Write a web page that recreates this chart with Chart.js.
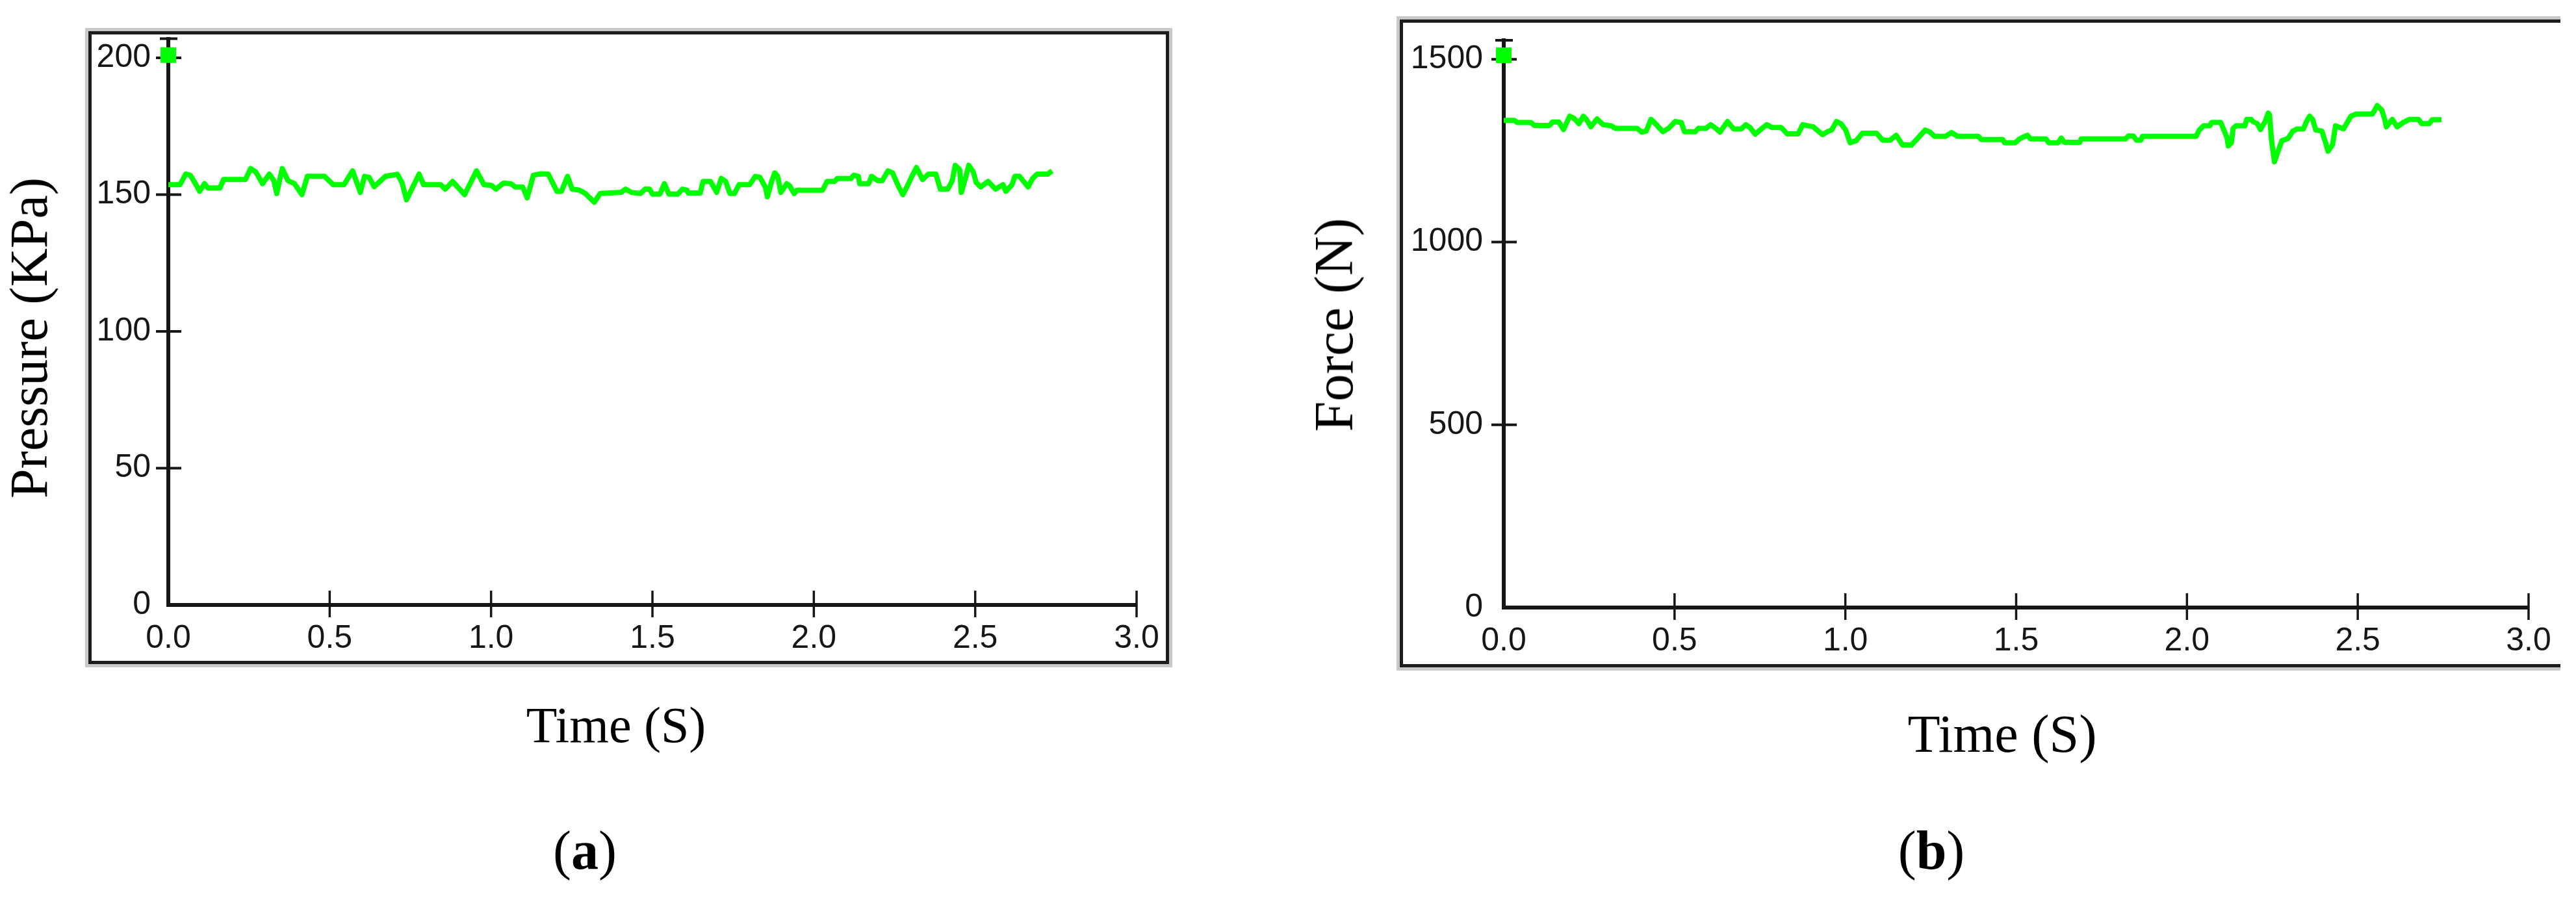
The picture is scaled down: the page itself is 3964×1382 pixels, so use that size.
<!DOCTYPE html>
<html>
<head>
<meta charset="utf-8">
<script src="https://cdn.jsdelivr.net/npm/chart.js@4.4.0/dist/chart.umd.min.js"></script>
<style>
  html, body { margin: 0; padding: 0; background: #fff; }
  body { position: relative; width: 3964px; height: 1382px; overflow: hidden; }
  canvas { position: absolute; top: 0; z-index: 2; }
  .frame { position: absolute; box-sizing: border-box; border: 5px solid #1c1c1c; box-shadow: 0 0 0 5px #c8c8c8; z-index: 1; }
  .txt { position: absolute; font-family: "Liberation Serif", "Times New Roman", serif; color: #000; line-height: 1; white-space: nowrap; z-index: 3; }
  .ytitle { transform: translate(-50%, -50%) rotate(-90deg); }
  .xtitle { transform: translateX(-50%); }
</style>
</head>
<body>
<div class="frame" style="left:136px; top:48px; width:1663px; height:974px;"></div>
<div class="frame" style="left:2154px; top:30px; width:1786px; height:997px; border-right:none; clip-path: inset(-6px 0 -6px -6px);"></div>

<canvas id="chartA" width="1980" height="1382" style="left:0;"></canvas>
<canvas id="chartB" width="1984" height="1382" style="left:1980px;"></canvas>

<div class="txt ytitle" style="left:45px; top:520px; font-size:82px;">Pressure (KPa)</div>
<div class="txt ytitle" style="left:2053px; top:500px; font-size:84px;">Force (N)</div>
<div class="txt xtitle" style="left:948px; top:1077px; font-size:78px;">Time (S)</div>
<div class="txt xtitle" style="left:3081px; top:1089px; font-size:82px;">Time (S)</div>
<div class="txt xtitle" style="left:900px; top:1267px; font-size:84px;">(<b>a</b>)</div>
<div class="txt xtitle" style="left:2972px; top:1267px; font-size:84px;">(<b>b</b>)</div>

<script>
// axis ticks
const xTicks = [0, 0.5, 1, 1.5, 2, 2.5, 3];
const xTickLabels = ['0.0', '0.5', '1.0', '1.5', '2.0', '2.5', '3.0'];
const pressureTicks = [0, 50, 100, 150, 200];
const forceTicks = [0, 500, 1000, 1500];

// first sample (shown as a square marker)
const pressureStart = [0, 201];
const forceStart = [0, 1511];

// (a) pressure trace, KPa
const pressureTime = [0, 0.036, 0.054, 0.068, 0.082, 0.097, 0.112, 0.123, 0.160, 0.171,
  0.239, 0.255, 0.271, 0.292, 0.313, 0.327, 0.336, 0.353, 0.371, 0.391,
  0.414, 0.431, 0.484, 0.511, 0.544, 0.571, 0.595, 0.608, 0.622, 0.638,
  0.673, 0.710, 0.724, 0.738, 0.761, 0.777, 0.791, 0.844, 0.858, 0.881,
  0.918, 0.955, 0.978, 1.001, 1.015, 1.038, 1.061, 1.075, 1.098, 1.112,
  1.131, 1.154, 1.177, 1.204, 1.218, 1.237, 1.251, 1.274, 1.292, 1.320,
  1.338, 1.403, 1.417, 1.435, 1.463, 1.477, 1.491, 1.500, 1.523, 1.537,
  1.551, 1.579, 1.593, 1.607, 1.611, 1.648, 1.657, 1.680, 1.699, 1.713,
  1.727, 1.740, 1.754, 1.768, 1.801, 1.819, 1.833, 1.851, 1.856, 1.870,
  1.879, 1.888, 1.898, 1.916, 1.925, 1.939, 1.948, 2.027, 2.041, 2.064,
  2.073, 2.115, 2.124, 2.138, 2.142, 2.170, 2.179, 2.198, 2.212, 2.230,
  2.244, 2.263, 2.276, 2.290, 2.304, 2.318, 2.337, 2.355, 2.378, 2.392,
  2.415, 2.429, 2.438, 2.452, 2.457, 2.466, 2.480, 2.494, 2.503, 2.517,
  2.540, 2.563, 2.586, 2.595, 2.614, 2.623, 2.637, 2.664, 2.678, 2.692,
  2.725, 2.738];
const pressureValues = [153.6, 153.6, 157.5, 157.1, 154.4, 151.2, 154.0, 152.4, 152.4, 155.5,
  155.5, 159.5, 158.3, 154.0, 157.5, 155.1, 150.4, 159.5, 155.1, 154.0,
  150.0, 156.7, 156.7, 153.6, 153.6, 158.7, 150.8, 156.7, 156.3, 152.9,
  156.7, 157.4, 154.4, 148.1, 153.6, 157.5, 153.6, 153.6, 152.0, 154.8,
  150.0, 158.7, 153.6, 153.4, 152.0, 154.2, 154.0, 152.8, 152.8, 148.8,
  157.1, 157.6, 157.5, 151.2, 151.2, 156.7, 152.0, 151.6, 150.4, 147.2,
  150.4, 150.8, 152.0, 150.8, 150.4, 152.0, 152.0, 150.2, 150.2, 154.0,
  150.2, 150.2, 152.0, 151.6, 150.6, 150.6, 154.8, 154.8, 150.8, 155.9,
  154.8, 150.4, 150.4, 153.6, 153.6, 156.7, 156.3, 152.4, 149.2, 155.1,
  157.9, 156.7, 150.8, 154.0, 153.2, 150.4, 151.6, 151.6, 154.8, 154.8,
  155.9, 155.9, 157.1, 156.7, 154.0, 154.0, 156.7, 155.1, 155.1, 158.7,
  157.9, 152.8, 150.0, 153.2, 156.7, 159.9, 155.5, 157.5, 157.5, 152.0,
  152.0, 155.1, 160.7, 159.1, 150.8, 154.4, 160.7, 158.3, 154.4, 152.8,
  154.8, 152.0, 153.6, 151.2, 153.6, 156.7, 156.7, 152.8, 155.9, 157.5,
  157.5, 158.7];

// (b) force trace, N
const forceTime = [0, 0.031, 0.040, 0.080, 0.089, 0.134, 0.143, 0.161, 0.175, 0.193,
  0.206, 0.220, 0.233, 0.242, 0.255, 0.273, 0.291, 0.314, 0.327, 0.390,
  0.404, 0.417, 0.431, 0.444, 0.466, 0.484, 0.502, 0.520, 0.529, 0.561,
  0.570, 0.592, 0.606, 0.619, 0.633, 0.655, 0.673, 0.695, 0.709, 0.722,
  0.736, 0.754, 0.770, 0.785, 0.812, 0.830, 0.862, 0.875, 0.906, 0.933,
  0.951, 0.960, 0.974, 0.987, 1.001, 1.014, 1.032, 1.050, 1.091, 1.109,
  1.131, 1.149, 1.167, 1.194, 1.234, 1.248, 1.261, 1.293, 1.311, 1.329,
  1.389, 1.398, 1.461, 1.466, 1.497, 1.510, 1.519, 1.533, 1.542, 1.587,
  1.596, 1.623, 1.632, 1.641, 1.686, 1.690, 1.820, 1.829, 1.843, 1.852,
  1.865, 1.870, 2.027, 2.036, 2.049, 2.067, 2.072, 2.099, 2.108, 2.117,
  2.121, 2.130, 2.135, 2.144, 2.170, 2.175, 2.188, 2.193, 2.206, 2.215,
  2.229, 2.238, 2.242, 2.247, 2.256, 2.269, 2.278, 2.296, 2.310, 2.323,
  2.341, 2.350, 2.359, 2.368, 2.377, 2.395, 2.404, 2.413, 2.426, 2.435,
  2.458, 2.471, 2.480, 2.494, 2.543, 2.557, 2.570, 2.579, 2.584, 2.601,
  2.615, 2.633, 2.651, 2.678, 2.687, 2.709, 2.718, 2.745];
const forceValues = [1332.7, 1332.7, 1326.9, 1326.9, 1319.3, 1319.3, 1328.6, 1328.6, 1307.7, 1344.3,
  1338.5, 1324.0, 1344.3, 1335.6, 1315.3, 1336.8, 1321.1, 1318.2, 1311.2, 1311.2,
  1300.8, 1303.7, 1335.6, 1324.0, 1301.9, 1312.4, 1329.8, 1326.9, 1301.9, 1301.9,
  1311.2, 1311.2, 1321.1, 1312.4, 1300.8, 1329.8, 1309.5, 1309.5, 1321.1, 1312.4,
  1295.0, 1309.5, 1321.1, 1313.5, 1313.5, 1296.1, 1296.1, 1321.1, 1315.3, 1293.8,
  1303.7, 1306.6, 1329.8, 1324.0, 1306.6, 1271.7, 1277.5, 1297.9, 1297.9, 1278.7,
  1278.7, 1292.1, 1265.9, 1265.9, 1306.6, 1300.8, 1289.2, 1289.2, 1299.6, 1289.2,
  1289.2, 1280.4, 1280.4, 1271.7, 1271.7, 1282.2, 1286.3, 1292.1, 1282.2, 1282.2,
  1271.7, 1271.7, 1284.5, 1272.9, 1272.9, 1282.2, 1282.2, 1290.3, 1290.3, 1278.7,
  1278.7, 1289.2, 1289.2, 1306.6, 1318.2, 1318.2, 1326.9, 1326.9, 1306.6, 1286.3,
  1263.0, 1271.7, 1311.2, 1318.2, 1318.2, 1335.6, 1335.6, 1329.8, 1324.0, 1307.7,
  1329.8, 1353.0, 1347.2, 1283.3, 1219.5, 1254.3, 1277.5, 1283.3, 1303.7, 1309.5,
  1309.5, 1329.8, 1344.3, 1335.6, 1306.6, 1303.7, 1277.5, 1248.5, 1265.9, 1318.2,
  1309.5, 1329.8, 1344.3, 1350.1, 1350.1, 1373.3, 1361.7, 1335.6, 1315.3, 1335.6,
  1315.3, 1326.9, 1335.6, 1335.6, 1324.0, 1324.0, 1334.5, 1334.5];

const GREEN = '#00ff00';
const INK = '#161616';

Chart.defaults.font.family = '"Liberation Sans", Arial, sans-serif';
Chart.defaults.color = INK;

// tick marks that cross the axis lines, plus the cap on top of the y axis
const axisMarks = {
  id: 'axisMarks',
  beforeDatasetsDraw(chart) {
    const { ctx, chartArea: a, scales: { x, y } } = chart;
    ctx.save();
    ctx.strokeStyle = INK;
    ctx.lineWidth = 4;
    ctx.beginPath();
    y.ticks.forEach(t => {
      if (t.value === 0) return;
      const py = y.getPixelForValue(t.value);
      ctx.moveTo(a.left - 19, py);
      ctx.lineTo(a.left + 20, py);
    });
    ctx.moveTo(a.left - 13, a.top);
    ctx.lineTo(a.left + 14, a.top);
    ctx.stroke();

    ctx.lineWidth = 3.5;
    ctx.beginPath();
    x.ticks.forEach(t => {
      if (t.value === 0) return;
      const px = x.getPixelForValue(t.value);
      ctx.moveTo(px, a.bottom - 22);
      ctx.lineTo(px, a.bottom + 19);
    });
    ctx.stroke();
    ctx.restore();
  }
};

function makePanel(canvasId, time, values, start, yTicks, yMax, cfg) {
  const points = time.map((t, i) => ({ x: t, y: values[i] }));
  return new Chart(document.getElementById(canvasId), {
    type: 'line',
    data: {
      datasets: [
        {
          type: 'scatter',
          data: [{ x: start[0], y: start[1] }],
          pointStyle: 'rect',
          pointRadius: 17,
          backgroundColor: GREEN,
          borderWidth: 0,
          clip: false
        },
        {
          data: points,
          borderColor: GREEN,
          borderWidth: 8,
          borderJoinStyle: 'round',
          pointRadius: 0,
          tension: 0,
          clip: false
        }
      ]
    },
    options: {
      responsive: false,
      animation: false,
      devicePixelRatio: 1,
      layout: { padding: cfg.padding },
      plugins: { legend: { display: false }, tooltip: { enabled: false } },
      scales: {
        x: {
          type: 'linear',
          min: 0,
          max: 3,
          afterBuildTicks: s => { s.ticks = xTicks.map(v => ({ value: v })); },
          afterFit: s => { s.height = 110; },
          grid: { display: false, drawTicks: false },
          border: { display: true, color: INK, width: 6 },
          ticks: {
            autoSkip: false,
            maxRotation: 0,
            padding: 22,
            font: { size: 50 },
            callback: (v, i) => xTickLabels[i]
          }
        },
        y: {
          min: 0,
          max: yMax,
          afterBuildTicks: s => { s.ticks = yTicks.map(v => ({ value: v })); },
          afterFit: s => { s.width = cfg.yWidth; },
          grid: { display: false, drawTicks: false },
          border: { display: true, color: INK, width: 6 },
          ticks: {
            padding: cfg.yPad,
            font: { size: 50 },
            callback: v => String(v)
          }
        }
      }
    },
    plugins: [axisMarks]
  });
}

makePanel('chartA', pressureTime, pressureValues, pressureStart, pressureTicks, 207, {
  padding: { left: 0, top: 59.5, right: 231, bottom: 341 },
  yWidth: 259,
  yPad: 27
});

makePanel('chartB', forceTime, forceValues, forceStart, forceTicks, 1552, {
  padding: { left: 0, top: 44, right: 73, bottom: 337 },
  yWidth: 334,
  yPad: 32
});
</script>
</body>
</html>
